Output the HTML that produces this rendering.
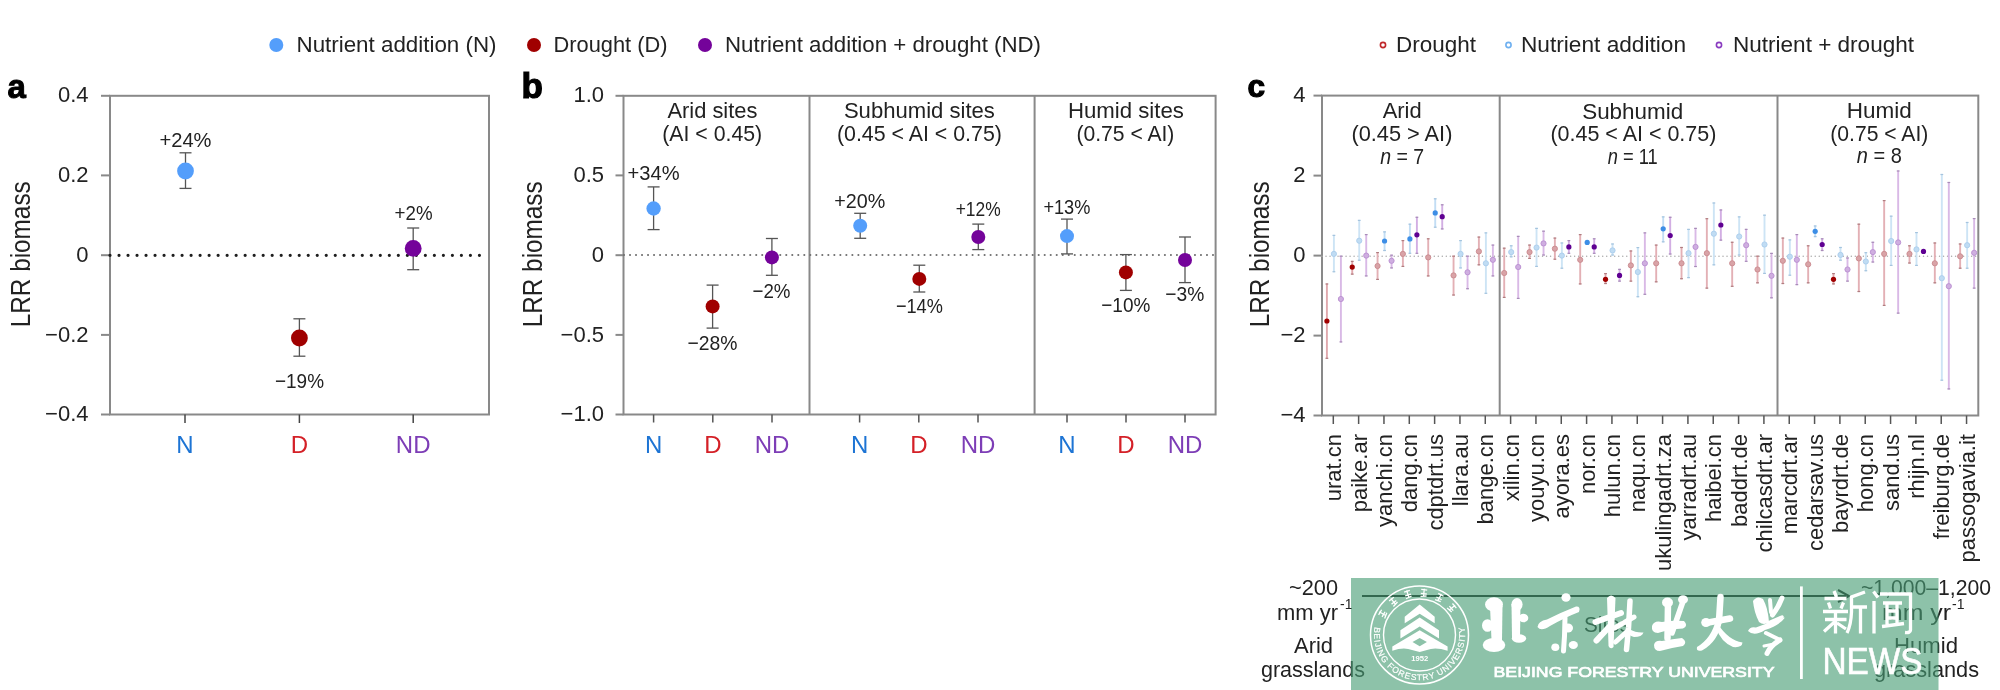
<!DOCTYPE html>
<html><head><meta charset="utf-8"><style>
html,body{margin:0;padding:0;background:#fff;}
svg{display:block;will-change:transform;}
text{font-family:"Liberation Sans", sans-serif;}
</style></head><body>
<svg width="2000" height="690" viewBox="0 0 2000 690">
<rect width="2000" height="690" fill="#fff"/>
<circle cx="276.3" cy="45" r="7" fill="#549efb"/>
<text x="296.5" y="51.5" font-size="22" fill="#222" text-anchor="start" font-weight="normal" textLength="200" lengthAdjust="spacingAndGlyphs" >Nutrient addition (N)</text>
<circle cx="534" cy="45" r="7" fill="#a00000"/>
<text x="553.5" y="51.5" font-size="22" fill="#222" text-anchor="start" font-weight="normal" textLength="114" lengthAdjust="spacingAndGlyphs" >Drought (D)</text>
<circle cx="705" cy="45" r="7" fill="#74039a"/>
<text x="725" y="51.5" font-size="22" fill="#222" text-anchor="start" font-weight="normal" textLength="316" lengthAdjust="spacingAndGlyphs" >Nutrient addition + drought (ND)</text>
<circle cx="1383" cy="45" r="2.6" fill="none" stroke="#c0282b" stroke-width="1.6"/>
<circle cx="1508.5" cy="45" r="2.6" fill="none" stroke="#6fb0f0" stroke-width="1.6"/>
<circle cx="1719" cy="45" r="2.6" fill="none" stroke="#8a3cc0" stroke-width="1.6"/>
<text x="1396" y="51.5" font-size="22" fill="#222" text-anchor="start" font-weight="normal" textLength="80" lengthAdjust="spacingAndGlyphs" >Drought</text>
<text x="1521" y="51.5" font-size="22" fill="#222" text-anchor="start" font-weight="normal" textLength="165" lengthAdjust="spacingAndGlyphs" >Nutrient addition</text>
<text x="1733" y="51.5" font-size="22" fill="#222" text-anchor="start" font-weight="normal" textLength="181" lengthAdjust="spacingAndGlyphs" >Nutrient + drought</text>
<text x="7.6" y="98" font-size="33" fill="#000" text-anchor="start" font-weight="bold" stroke="#000" stroke-width="1">a</text>
<text x="521.6" y="98" font-size="35" fill="#000" text-anchor="start" font-weight="bold" stroke="#000" stroke-width="1.2">b</text>
<text x="1247.6" y="97.2" font-size="31" fill="#000" text-anchor="start" font-weight="bold" stroke="#000" stroke-width="1.2" textLength="17.5" lengthAdjust="spacingAndGlyphs">c</text>
<text x="29.8" y="254.3" font-size="27" fill="#222" text-anchor="middle" transform="rotate(-90 29.8 254.3)" textLength="146" lengthAdjust="spacingAndGlyphs">LRR biomass</text>
<text x="542.3" y="254.3" font-size="27" fill="#222" text-anchor="middle" transform="rotate(-90 542.3 254.3)" textLength="146" lengthAdjust="spacingAndGlyphs">LRR biomass</text>
<text x="1268.6" y="254.3" font-size="27" fill="#222" text-anchor="middle" transform="rotate(-90 1268.6 254.3)" textLength="146" lengthAdjust="spacingAndGlyphs">LRR biomass</text>
<rect x="110" y="95.8" width="379" height="318.7" fill="none" stroke="#898989" stroke-width="2"/>
<line x1="101" y1="95.8" x2="110" y2="95.8" stroke="#898989" stroke-width="2" />
<text x="88.5" y="102.39999999999999" font-size="22" fill="#222" text-anchor="end" font-weight="normal" >0.4</text>
<line x1="101" y1="175.4" x2="110" y2="175.4" stroke="#898989" stroke-width="2" />
<text x="88.5" y="182.0" font-size="22" fill="#222" text-anchor="end" font-weight="normal" >0.2</text>
<line x1="101" y1="255.2" x2="110" y2="255.2" stroke="#898989" stroke-width="2" />
<text x="88.5" y="261.8" font-size="22" fill="#222" text-anchor="end" font-weight="normal" >0</text>
<line x1="101" y1="334.9" x2="110" y2="334.9" stroke="#898989" stroke-width="2" />
<text x="88.5" y="341.5" font-size="22" fill="#222" text-anchor="end" font-weight="normal" >−0.2</text>
<line x1="101" y1="414.5" x2="110" y2="414.5" stroke="#898989" stroke-width="2" />
<text x="88.5" y="421.1" font-size="22" fill="#222" text-anchor="end" font-weight="normal" >−0.4</text>
<line x1="110" y1="255.3" x2="482" y2="255.3" stroke="#1e1e1e" stroke-width="3.2" stroke-linecap="round" stroke-dasharray="0.01 9"/>
<line x1="185" y1="414.5" x2="185" y2="423" stroke="#444" stroke-width="1.5" />
<text x="185" y="452.5" font-size="24" fill="#1d74d4" text-anchor="middle" font-weight="normal" >N</text>
<line x1="299.4" y1="414.5" x2="299.4" y2="423" stroke="#444" stroke-width="1.5" />
<text x="299.4" y="452.5" font-size="24" fill="#d42027" text-anchor="middle" font-weight="normal" >D</text>
<line x1="413.2" y1="414.5" x2="413.2" y2="423" stroke="#444" stroke-width="1.5" />
<text x="413.2" y="452.5" font-size="24" fill="#7d3db6" text-anchor="middle" font-weight="normal" >ND</text>
<line x1="185.5" y1="152.8" x2="185.5" y2="188.4" stroke="#555" stroke-width="1.3" />
<line x1="179.5" y1="152.8" x2="191.5" y2="152.8" stroke="#555" stroke-width="1.3" />
<line x1="179.5" y1="188.4" x2="191.5" y2="188.4" stroke="#555" stroke-width="1.3" />
<circle cx="185.5" cy="171" r="8.4" fill="#549efb"/>
<line x1="299.4" y1="318.8" x2="299.4" y2="356.2" stroke="#555" stroke-width="1.3" />
<line x1="293.4" y1="318.8" x2="305.4" y2="318.8" stroke="#555" stroke-width="1.3" />
<line x1="293.4" y1="356.2" x2="305.4" y2="356.2" stroke="#555" stroke-width="1.3" />
<circle cx="299.4" cy="338" r="8.4" fill="#a00000"/>
<line x1="413.2" y1="228" x2="413.2" y2="269.7" stroke="#555" stroke-width="1.3" />
<line x1="407.2" y1="228" x2="419.2" y2="228" stroke="#555" stroke-width="1.3" />
<line x1="407.2" y1="269.7" x2="419.2" y2="269.7" stroke="#555" stroke-width="1.3" />
<circle cx="413.2" cy="248.4" r="8.4" fill="#74039a"/>
<text x="185.5" y="146.7" font-size="21" fill="#222" text-anchor="middle" font-weight="normal" textLength="52" lengthAdjust="spacingAndGlyphs" >+24%</text>
<text x="299.5" y="387.7" font-size="21" fill="#222" text-anchor="middle" font-weight="normal" textLength="49" lengthAdjust="spacingAndGlyphs" >−19%</text>
<text x="413.6" y="220.4" font-size="21" fill="#222" text-anchor="middle" font-weight="normal" textLength="38" lengthAdjust="spacingAndGlyphs" >+2%</text>
<rect x="623.5" y="95.8" width="592.0999999999999" height="318.7" fill="none" stroke="#898989" stroke-width="2"/>
<line x1="809.5" y1="95.8" x2="809.5" y2="414.5" stroke="#898989" stroke-width="2" />
<line x1="1034.6" y1="95.8" x2="1034.6" y2="414.5" stroke="#898989" stroke-width="2" />
<line x1="615.5" y1="95.8" x2="623.5" y2="95.8" stroke="#898989" stroke-width="2" />
<text x="604" y="102.39999999999999" font-size="22" fill="#222" text-anchor="end" font-weight="normal" >1.0</text>
<line x1="615.5" y1="175.4" x2="623.5" y2="175.4" stroke="#898989" stroke-width="2" />
<text x="604" y="182.0" font-size="22" fill="#222" text-anchor="end" font-weight="normal" >0.5</text>
<line x1="615.5" y1="255.2" x2="623.5" y2="255.2" stroke="#898989" stroke-width="2" />
<text x="604" y="261.8" font-size="22" fill="#222" text-anchor="end" font-weight="normal" >0</text>
<line x1="615.5" y1="334.9" x2="623.5" y2="334.9" stroke="#898989" stroke-width="2" />
<text x="604" y="341.5" font-size="22" fill="#222" text-anchor="end" font-weight="normal" >−0.5</text>
<line x1="615.5" y1="414.5" x2="623.5" y2="414.5" stroke="#898989" stroke-width="2" />
<text x="604" y="421.1" font-size="22" fill="#222" text-anchor="end" font-weight="normal" >−1.0</text>
<line x1="624.0" y1="255" x2="1213.6" y2="255" stroke="#6f6f6f" stroke-width="2.1" stroke-linecap="round" stroke-dasharray="0.01 6"/>
<line x1="653.6" y1="414.5" x2="653.6" y2="422.5" stroke="#555" stroke-width="1.5" />
<text x="653.6" y="453" font-size="24" fill="#1d74d4" text-anchor="middle" font-weight="normal" >N</text>
<line x1="712.8" y1="414.5" x2="712.8" y2="422.5" stroke="#555" stroke-width="1.5" />
<text x="712.8" y="453" font-size="24" fill="#d42027" text-anchor="middle" font-weight="normal" >D</text>
<line x1="772" y1="414.5" x2="772" y2="422.5" stroke="#555" stroke-width="1.5" />
<text x="772" y="453" font-size="24" fill="#7d3db6" text-anchor="middle" font-weight="normal" >ND</text>
<line x1="859.6" y1="414.5" x2="859.6" y2="422.5" stroke="#555" stroke-width="1.5" />
<text x="859.6" y="453" font-size="24" fill="#1d74d4" text-anchor="middle" font-weight="normal" >N</text>
<line x1="918.8" y1="414.5" x2="918.8" y2="422.5" stroke="#555" stroke-width="1.5" />
<text x="918.8" y="453" font-size="24" fill="#d42027" text-anchor="middle" font-weight="normal" >D</text>
<line x1="978" y1="414.5" x2="978" y2="422.5" stroke="#555" stroke-width="1.5" />
<text x="978" y="453" font-size="24" fill="#7d3db6" text-anchor="middle" font-weight="normal" >ND</text>
<line x1="1067" y1="414.5" x2="1067" y2="422.5" stroke="#555" stroke-width="1.5" />
<text x="1067" y="453" font-size="24" fill="#1d74d4" text-anchor="middle" font-weight="normal" >N</text>
<line x1="1126" y1="414.5" x2="1126" y2="422.5" stroke="#555" stroke-width="1.5" />
<text x="1126" y="453" font-size="24" fill="#d42027" text-anchor="middle" font-weight="normal" >D</text>
<line x1="1185" y1="414.5" x2="1185" y2="422.5" stroke="#555" stroke-width="1.5" />
<text x="1185" y="453" font-size="24" fill="#7d3db6" text-anchor="middle" font-weight="normal" >ND</text>
<text x="712.4" y="118.3" font-size="22" fill="#222" text-anchor="middle" font-weight="normal" textLength="90" lengthAdjust="spacingAndGlyphs" >Arid sites</text>
<text x="712.2" y="140.9" font-size="22" fill="#222" text-anchor="middle" font-weight="normal" textLength="100" lengthAdjust="spacingAndGlyphs" >(AI &lt; 0.45)</text>
<text x="919.4" y="118.3" font-size="22" fill="#222" text-anchor="middle" font-weight="normal" textLength="151" lengthAdjust="spacingAndGlyphs" >Subhumid sites</text>
<text x="919.4" y="140.9" font-size="22" fill="#222" text-anchor="middle" font-weight="normal" textLength="165" lengthAdjust="spacingAndGlyphs" >(0.45 &lt; AI &lt; 0.75)</text>
<text x="1125.9" y="118.3" font-size="22" fill="#222" text-anchor="middle" font-weight="normal" textLength="116" lengthAdjust="spacingAndGlyphs" >Humid sites</text>
<text x="1125.4" y="140.9" font-size="22" fill="#222" text-anchor="middle" font-weight="normal" textLength="98" lengthAdjust="spacingAndGlyphs" >(0.75 &lt; AI)</text>
<line x1="653.6" y1="186.9" x2="653.6" y2="229.6" stroke="#555" stroke-width="1.3" />
<line x1="647.6" y1="186.9" x2="659.6" y2="186.9" stroke="#555" stroke-width="1.3" />
<line x1="647.6" y1="229.6" x2="659.6" y2="229.6" stroke="#555" stroke-width="1.3" />
<circle cx="653.6" cy="208.5" r="7.2" fill="#549efb"/>
<line x1="712.6" y1="285.1" x2="712.6" y2="328.1" stroke="#555" stroke-width="1.3" />
<line x1="706.6" y1="285.1" x2="718.6" y2="285.1" stroke="#555" stroke-width="1.3" />
<line x1="706.6" y1="328.1" x2="718.6" y2="328.1" stroke="#555" stroke-width="1.3" />
<circle cx="712.6" cy="306.4" r="7.0" fill="#a00000"/>
<line x1="771.9" y1="238.5" x2="771.9" y2="275.3" stroke="#555" stroke-width="1.3" />
<line x1="765.9" y1="238.5" x2="777.9" y2="238.5" stroke="#555" stroke-width="1.3" />
<line x1="765.9" y1="275.3" x2="777.9" y2="275.3" stroke="#555" stroke-width="1.3" />
<circle cx="771.9" cy="257.4" r="7.0" fill="#74039a"/>
<line x1="860.2" y1="213.3" x2="860.2" y2="238.3" stroke="#555" stroke-width="1.3" />
<line x1="854.2" y1="213.3" x2="866.2" y2="213.3" stroke="#555" stroke-width="1.3" />
<line x1="854.2" y1="238.3" x2="866.2" y2="238.3" stroke="#555" stroke-width="1.3" />
<circle cx="860.2" cy="225.7" r="7.0" fill="#549efb"/>
<line x1="919.3" y1="265.2" x2="919.3" y2="292.0" stroke="#555" stroke-width="1.3" />
<line x1="913.3" y1="265.2" x2="925.3" y2="265.2" stroke="#555" stroke-width="1.3" />
<line x1="913.3" y1="292.0" x2="925.3" y2="292.0" stroke="#555" stroke-width="1.3" />
<circle cx="919.3" cy="278.9" r="7.0" fill="#a00000"/>
<line x1="978.3" y1="224.1" x2="978.3" y2="249.6" stroke="#555" stroke-width="1.3" />
<line x1="972.3" y1="224.1" x2="984.3" y2="224.1" stroke="#555" stroke-width="1.3" />
<line x1="972.3" y1="249.6" x2="984.3" y2="249.6" stroke="#555" stroke-width="1.3" />
<circle cx="978.3" cy="237.0" r="7.0" fill="#74039a"/>
<line x1="1067.0" y1="219.1" x2="1067.0" y2="253.9" stroke="#555" stroke-width="1.3" />
<line x1="1061.0" y1="219.1" x2="1073.0" y2="219.1" stroke="#555" stroke-width="1.3" />
<line x1="1061.0" y1="253.9" x2="1073.0" y2="253.9" stroke="#555" stroke-width="1.3" />
<circle cx="1067.0" cy="236.1" r="7.0" fill="#549efb"/>
<line x1="1125.9" y1="254.6" x2="1125.9" y2="290.4" stroke="#555" stroke-width="1.3" />
<line x1="1119.9" y1="254.6" x2="1131.9" y2="254.6" stroke="#555" stroke-width="1.3" />
<line x1="1119.9" y1="290.4" x2="1131.9" y2="290.4" stroke="#555" stroke-width="1.3" />
<circle cx="1125.9" cy="272.4" r="7.0" fill="#a00000"/>
<line x1="1185.0" y1="237.0" x2="1185.0" y2="282.6" stroke="#555" stroke-width="1.3" />
<line x1="1179.0" y1="237.0" x2="1191.0" y2="237.0" stroke="#555" stroke-width="1.3" />
<line x1="1179.0" y1="282.6" x2="1191.0" y2="282.6" stroke="#555" stroke-width="1.3" />
<circle cx="1185.0" cy="260.0" r="7.0" fill="#74039a"/>
<text x="653.6" y="180.3" font-size="21" fill="#222" text-anchor="middle" font-weight="normal" textLength="52" lengthAdjust="spacingAndGlyphs" >+34%</text>
<text x="712.4" y="349.8" font-size="21" fill="#222" text-anchor="middle" font-weight="normal" textLength="50" lengthAdjust="spacingAndGlyphs" >−28%</text>
<text x="771.5" y="297.9" font-size="21" fill="#222" text-anchor="middle" font-weight="normal" textLength="38" lengthAdjust="spacingAndGlyphs" >−2%</text>
<text x="859.7" y="208.3" font-size="21" fill="#222" text-anchor="middle" font-weight="normal" textLength="51" lengthAdjust="spacingAndGlyphs" >+20%</text>
<text x="919.4" y="313" font-size="21" fill="#222" text-anchor="middle" font-weight="normal" textLength="47" lengthAdjust="spacingAndGlyphs" >−14%</text>
<text x="978.2" y="215.9" font-size="21" fill="#222" text-anchor="middle" font-weight="normal" textLength="45" lengthAdjust="spacingAndGlyphs" >+12%</text>
<text x="1066.9" y="213.7" font-size="21" fill="#222" text-anchor="middle" font-weight="normal" textLength="47" lengthAdjust="spacingAndGlyphs" >+13%</text>
<text x="1125.8" y="311.5" font-size="21" fill="#222" text-anchor="middle" font-weight="normal" textLength="49" lengthAdjust="spacingAndGlyphs" >−10%</text>
<text x="1184.8" y="301.3" font-size="21" fill="#222" text-anchor="middle" font-weight="normal" textLength="39" lengthAdjust="spacingAndGlyphs" >−3%</text>
<rect x="1322" y="95.6" width="656.3" height="319.9" fill="none" stroke="#898989" stroke-width="2"/>
<line x1="1499.7" y1="95.6" x2="1499.7" y2="415.5" stroke="#898989" stroke-width="2" />
<line x1="1777.5" y1="95.6" x2="1777.5" y2="415.5" stroke="#898989" stroke-width="2" />
<line x1="1313.5" y1="95.6" x2="1322" y2="95.6" stroke="#898989" stroke-width="2" />
<text x="1305.5" y="102.19999999999999" font-size="22" fill="#222" text-anchor="end" font-weight="normal" >4</text>
<line x1="1313.5" y1="175.6" x2="1322" y2="175.6" stroke="#898989" stroke-width="2" />
<text x="1305.5" y="182.2" font-size="22" fill="#222" text-anchor="end" font-weight="normal" >2</text>
<line x1="1313.5" y1="255.6" x2="1322" y2="255.6" stroke="#898989" stroke-width="2" />
<text x="1305.5" y="262.2" font-size="22" fill="#222" text-anchor="end" font-weight="normal" >0</text>
<line x1="1313.5" y1="335.6" x2="1322" y2="335.6" stroke="#898989" stroke-width="2" />
<text x="1305.5" y="342.20000000000005" font-size="22" fill="#222" text-anchor="end" font-weight="normal" >−2</text>
<line x1="1313.5" y1="415.5" x2="1322" y2="415.5" stroke="#898989" stroke-width="2" />
<text x="1305.5" y="422.1" font-size="22" fill="#222" text-anchor="end" font-weight="normal" >−4</text>
<line x1="1322" y1="256.2" x2="1978.3" y2="256.2" stroke="#aaaaaa" stroke-width="1.5" stroke-linecap="round" stroke-dasharray="0.01 4"/>
<line x1="1333.3" y1="415.5" x2="1333.3" y2="424" stroke="#555" stroke-width="1.5" />
<text x="1341.3" y="434" font-size="22" fill="#222" text-anchor="end" transform="rotate(-90 1341.3 434)">urat.cn</text>
<line x1="1358.6299999999999" y1="415.5" x2="1358.6299999999999" y2="424" stroke="#555" stroke-width="1.5" />
<text x="1366.6299999999999" y="434" font-size="22" fill="#222" text-anchor="end" transform="rotate(-90 1366.6299999999999 434)">paike.ar</text>
<line x1="1383.96" y1="415.5" x2="1383.96" y2="424" stroke="#555" stroke-width="1.5" />
<text x="1391.96" y="434" font-size="22" fill="#222" text-anchor="end" transform="rotate(-90 1391.96 434)">yanchi.cn</text>
<line x1="1409.29" y1="415.5" x2="1409.29" y2="424" stroke="#555" stroke-width="1.5" />
<text x="1417.29" y="434" font-size="22" fill="#222" text-anchor="end" transform="rotate(-90 1417.29 434)">dang.cn</text>
<line x1="1434.62" y1="415.5" x2="1434.62" y2="424" stroke="#555" stroke-width="1.5" />
<text x="1442.62" y="434" font-size="22" fill="#222" text-anchor="end" transform="rotate(-90 1442.62 434)">cdptdrt.us</text>
<line x1="1459.95" y1="415.5" x2="1459.95" y2="424" stroke="#555" stroke-width="1.5" />
<text x="1467.95" y="434" font-size="22" fill="#222" text-anchor="end" transform="rotate(-90 1467.95 434)">llara.au</text>
<line x1="1485.28" y1="415.5" x2="1485.28" y2="424" stroke="#555" stroke-width="1.5" />
<text x="1493.28" y="434" font-size="22" fill="#222" text-anchor="end" transform="rotate(-90 1493.28 434)">bange.cn</text>
<line x1="1510.61" y1="415.5" x2="1510.61" y2="424" stroke="#555" stroke-width="1.5" />
<text x="1518.61" y="434" font-size="22" fill="#222" text-anchor="end" transform="rotate(-90 1518.61 434)">xilin.cn</text>
<line x1="1535.94" y1="415.5" x2="1535.94" y2="424" stroke="#555" stroke-width="1.5" />
<text x="1543.94" y="434" font-size="22" fill="#222" text-anchor="end" transform="rotate(-90 1543.94 434)">youyu.cn</text>
<line x1="1561.27" y1="415.5" x2="1561.27" y2="424" stroke="#555" stroke-width="1.5" />
<text x="1569.27" y="434" font-size="22" fill="#222" text-anchor="end" transform="rotate(-90 1569.27 434)">ayora.es</text>
<line x1="1586.6" y1="415.5" x2="1586.6" y2="424" stroke="#555" stroke-width="1.5" />
<text x="1594.6" y="434" font-size="22" fill="#222" text-anchor="end" transform="rotate(-90 1594.6 434)">nor.cn</text>
<line x1="1611.9299999999998" y1="415.5" x2="1611.9299999999998" y2="424" stroke="#555" stroke-width="1.5" />
<text x="1619.9299999999998" y="434" font-size="22" fill="#222" text-anchor="end" transform="rotate(-90 1619.9299999999998 434)">hulun.cn</text>
<line x1="1637.26" y1="415.5" x2="1637.26" y2="424" stroke="#555" stroke-width="1.5" />
<text x="1645.26" y="434" font-size="22" fill="#222" text-anchor="end" transform="rotate(-90 1645.26 434)">naqu.cn</text>
<line x1="1662.59" y1="415.5" x2="1662.59" y2="424" stroke="#555" stroke-width="1.5" />
<text x="1670.59" y="434" font-size="22" fill="#222" text-anchor="end" transform="rotate(-90 1670.59 434)">ukulingadrt.za</text>
<line x1="1687.92" y1="415.5" x2="1687.92" y2="424" stroke="#555" stroke-width="1.5" />
<text x="1695.92" y="434" font-size="22" fill="#222" text-anchor="end" transform="rotate(-90 1695.92 434)">yarradrt.au</text>
<line x1="1713.25" y1="415.5" x2="1713.25" y2="424" stroke="#555" stroke-width="1.5" />
<text x="1721.25" y="434" font-size="22" fill="#222" text-anchor="end" transform="rotate(-90 1721.25 434)">haibei.cn</text>
<line x1="1738.58" y1="415.5" x2="1738.58" y2="424" stroke="#555" stroke-width="1.5" />
<text x="1746.58" y="434" font-size="22" fill="#222" text-anchor="end" transform="rotate(-90 1746.58 434)">baddrt.de</text>
<line x1="1763.9099999999999" y1="415.5" x2="1763.9099999999999" y2="424" stroke="#555" stroke-width="1.5" />
<text x="1771.9099999999999" y="434" font-size="22" fill="#222" text-anchor="end" transform="rotate(-90 1771.9099999999999 434)">chilcasdrt.ar</text>
<line x1="1789.2399999999998" y1="415.5" x2="1789.2399999999998" y2="424" stroke="#555" stroke-width="1.5" />
<text x="1797.2399999999998" y="434" font-size="22" fill="#222" text-anchor="end" transform="rotate(-90 1797.2399999999998 434)">marcdrt.ar</text>
<line x1="1814.57" y1="415.5" x2="1814.57" y2="424" stroke="#555" stroke-width="1.5" />
<text x="1822.57" y="434" font-size="22" fill="#222" text-anchor="end" transform="rotate(-90 1822.57 434)">cedarsav.us</text>
<line x1="1839.8999999999999" y1="415.5" x2="1839.8999999999999" y2="424" stroke="#555" stroke-width="1.5" />
<text x="1847.8999999999999" y="434" font-size="22" fill="#222" text-anchor="end" transform="rotate(-90 1847.8999999999999 434)">bayrdrt.de</text>
<line x1="1865.23" y1="415.5" x2="1865.23" y2="424" stroke="#555" stroke-width="1.5" />
<text x="1873.23" y="434" font-size="22" fill="#222" text-anchor="end" transform="rotate(-90 1873.23 434)">hong.cn</text>
<line x1="1890.56" y1="415.5" x2="1890.56" y2="424" stroke="#555" stroke-width="1.5" />
<text x="1898.56" y="434" font-size="22" fill="#222" text-anchor="end" transform="rotate(-90 1898.56 434)">sand.us</text>
<line x1="1915.8899999999999" y1="415.5" x2="1915.8899999999999" y2="424" stroke="#555" stroke-width="1.5" />
<text x="1923.8899999999999" y="434" font-size="22" fill="#222" text-anchor="end" transform="rotate(-90 1923.8899999999999 434)">rhijn.nl</text>
<line x1="1941.2199999999998" y1="415.5" x2="1941.2199999999998" y2="424" stroke="#555" stroke-width="1.5" />
<text x="1949.2199999999998" y="434" font-size="22" fill="#222" text-anchor="end" transform="rotate(-90 1949.2199999999998 434)">freiburg.de</text>
<line x1="1966.55" y1="415.5" x2="1966.55" y2="424" stroke="#555" stroke-width="1.5" />
<text x="1974.55" y="434" font-size="22" fill="#222" text-anchor="end" transform="rotate(-90 1974.55 434)">passogavia.it</text>
<text x="1402.2" y="118.2" font-size="22" fill="#222" text-anchor="middle" font-weight="normal" textLength="39" lengthAdjust="spacingAndGlyphs" >Arid</text>
<text x="1401.9" y="141.4" font-size="22" fill="#222" text-anchor="middle" font-weight="normal" textLength="101" lengthAdjust="spacingAndGlyphs" >(0.45 &gt; AI)</text>
<text x="1402.2" y="163.6" font-size="22" fill="#222" text-anchor="middle" textLength="44" lengthAdjust="spacingAndGlyphs"><tspan font-style="italic">n</tspan> = 7</text>
<text x="1632.7" y="118.5" font-size="22" fill="#222" text-anchor="middle" font-weight="normal" textLength="101" lengthAdjust="spacingAndGlyphs" >Subhumid</text>
<text x="1633.4" y="141.1" font-size="22" fill="#222" text-anchor="middle" font-weight="normal" textLength="166" lengthAdjust="spacingAndGlyphs" >(0.45 &lt; AI &lt; 0.75)</text>
<text x="1632.7" y="163.5" font-size="22" fill="#222" text-anchor="middle" textLength="50" lengthAdjust="spacingAndGlyphs"><tspan font-style="italic">n</tspan> = 11</text>
<text x="1879.2" y="118.1" font-size="22" fill="#222" text-anchor="middle" font-weight="normal" textLength="65" lengthAdjust="spacingAndGlyphs" >Humid</text>
<text x="1879.3" y="140.5" font-size="22" fill="#222" text-anchor="middle" font-weight="normal" textLength="98" lengthAdjust="spacingAndGlyphs" >(0.75 &lt; AI)</text>
<text x="1879.3" y="163.3" font-size="22" fill="#222" text-anchor="middle" textLength="45" lengthAdjust="spacingAndGlyphs"><tspan font-style="italic">n</tspan> = 8</text>
<line x1="1326.8999999999999" y1="283.4" x2="1326.8999999999999" y2="358.9" stroke="#e0a8ad" stroke-width="1.9" />
<line x1="1325.4999999999998" y1="284.0" x2="1328.3" y2="284.0" stroke="#b07d80" stroke-width="1.2" />
<line x1="1325.4999999999998" y1="358.29999999999995" x2="1328.3" y2="358.29999999999995" stroke="#b07d80" stroke-width="1.2" />
<circle cx="1326.8999999999999" cy="321" r="2.6" fill="#a00000"/>
<line x1="1333.8999999999999" y1="234.8" x2="1333.8999999999999" y2="272.3" stroke="#cde4f5" stroke-width="1.9" />
<line x1="1332.4999999999998" y1="235.4" x2="1335.3" y2="235.4" stroke="#a5c4de" stroke-width="1.2" />
<line x1="1332.4999999999998" y1="271.7" x2="1335.3" y2="271.7" stroke="#a5c4de" stroke-width="1.2" />
<circle cx="1333.8999999999999" cy="253.9" r="2.6" fill="#c0dcf3" stroke="#aacdec" stroke-width="0.9"/>
<line x1="1340.8999999999999" y1="255.6" x2="1340.8999999999999" y2="342.5" stroke="#d9b9e6" stroke-width="1.9" />
<line x1="1339.4999999999998" y1="256.2" x2="1342.3" y2="256.2" stroke="#a88cb8" stroke-width="1.2" />
<line x1="1339.4999999999998" y1="341.9" x2="1342.3" y2="341.9" stroke="#a88cb8" stroke-width="1.2" />
<circle cx="1340.8999999999999" cy="299" r="2.6" fill="#cfaee0" stroke="#b98fd0" stroke-width="0.9"/>
<line x1="1352.2299999999998" y1="260.8" x2="1352.2299999999998" y2="274.7" stroke="#e0a8ad" stroke-width="1.9" />
<line x1="1350.8299999999997" y1="261.40000000000003" x2="1353.6299999999999" y2="261.40000000000003" stroke="#b07d80" stroke-width="1.2" />
<line x1="1350.8299999999997" y1="274.09999999999997" x2="1353.6299999999999" y2="274.09999999999997" stroke="#b07d80" stroke-width="1.2" />
<circle cx="1352.2299999999998" cy="267.1" r="2.6" fill="#a00000"/>
<line x1="1359.2299999999998" y1="219.8" x2="1359.2299999999998" y2="260.8" stroke="#cde4f5" stroke-width="1.9" />
<line x1="1357.8299999999997" y1="220.4" x2="1360.6299999999999" y2="220.4" stroke="#a5c4de" stroke-width="1.2" />
<line x1="1357.8299999999997" y1="260.2" x2="1360.6299999999999" y2="260.2" stroke="#a5c4de" stroke-width="1.2" />
<circle cx="1359.2299999999998" cy="240.7" r="2.6" fill="#c0dcf3" stroke="#aacdec" stroke-width="0.9"/>
<line x1="1366.2299999999998" y1="234" x2="1366.2299999999998" y2="276.5" stroke="#d9b9e6" stroke-width="1.9" />
<line x1="1364.8299999999997" y1="234.6" x2="1367.6299999999999" y2="234.6" stroke="#a88cb8" stroke-width="1.2" />
<line x1="1364.8299999999997" y1="275.9" x2="1367.6299999999999" y2="275.9" stroke="#a88cb8" stroke-width="1.2" />
<circle cx="1366.2299999999998" cy="255.6" r="2.6" fill="#cfaee0" stroke="#b98fd0" stroke-width="0.9"/>
<line x1="1377.56" y1="252" x2="1377.56" y2="280" stroke="#e3b0b5" stroke-width="1.9" />
<line x1="1376.1599999999999" y1="252.6" x2="1378.96" y2="252.6" stroke="#b07d80" stroke-width="1.2" />
<line x1="1376.1599999999999" y1="279.4" x2="1378.96" y2="279.4" stroke="#b07d80" stroke-width="1.2" />
<circle cx="1377.56" cy="266" r="2.6" fill="#d9a3a7" stroke="#c98a8f" stroke-width="0.9"/>
<line x1="1384.56" y1="231.3" x2="1384.56" y2="251.1" stroke="#c2ddf4" stroke-width="1.9" />
<line x1="1383.1599999999999" y1="231.9" x2="1385.96" y2="231.9" stroke="#a5c4de" stroke-width="1.2" />
<line x1="1383.1599999999999" y1="250.5" x2="1385.96" y2="250.5" stroke="#a5c4de" stroke-width="1.2" />
<circle cx="1384.56" cy="241" r="2.6" fill="#3d8ee6"/>
<line x1="1391.56" y1="254.6" x2="1391.56" y2="268.5" stroke="#d9b9e6" stroke-width="1.9" />
<line x1="1390.1599999999999" y1="255.2" x2="1392.96" y2="255.2" stroke="#a88cb8" stroke-width="1.2" />
<line x1="1390.1599999999999" y1="267.9" x2="1392.96" y2="267.9" stroke="#a88cb8" stroke-width="1.2" />
<circle cx="1391.56" cy="260.8" r="2.6" fill="#cfaee0" stroke="#b98fd0" stroke-width="0.9"/>
<line x1="1402.8899999999999" y1="240" x2="1402.8899999999999" y2="267" stroke="#e3b0b5" stroke-width="1.9" />
<line x1="1401.4899999999998" y1="240.6" x2="1404.29" y2="240.6" stroke="#b07d80" stroke-width="1.2" />
<line x1="1401.4899999999998" y1="266.4" x2="1404.29" y2="266.4" stroke="#b07d80" stroke-width="1.2" />
<circle cx="1402.8899999999999" cy="253.9" r="2.6" fill="#d9a3a7" stroke="#c98a8f" stroke-width="0.9"/>
<line x1="1409.8899999999999" y1="223.6" x2="1409.8899999999999" y2="253.9" stroke="#c2ddf4" stroke-width="1.9" />
<line x1="1408.4899999999998" y1="224.2" x2="1411.29" y2="224.2" stroke="#a5c4de" stroke-width="1.2" />
<line x1="1408.4899999999998" y1="253.3" x2="1411.29" y2="253.3" stroke="#a5c4de" stroke-width="1.2" />
<circle cx="1409.8899999999999" cy="238.9" r="2.6" fill="#3d8ee6"/>
<line x1="1416.8899999999999" y1="216.7" x2="1416.8899999999999" y2="253.9" stroke="#d2aee3" stroke-width="1.9" />
<line x1="1415.4899999999998" y1="217.29999999999998" x2="1418.29" y2="217.29999999999998" stroke="#a88cb8" stroke-width="1.2" />
<line x1="1415.4899999999998" y1="253.3" x2="1418.29" y2="253.3" stroke="#a88cb8" stroke-width="1.2" />
<circle cx="1416.8899999999999" cy="234.8" r="2.6" fill="#5f0092"/>
<line x1="1428.2199999999998" y1="238.2" x2="1428.2199999999998" y2="276.5" stroke="#e3b0b5" stroke-width="1.9" />
<line x1="1426.8199999999997" y1="238.79999999999998" x2="1429.62" y2="238.79999999999998" stroke="#b07d80" stroke-width="1.2" />
<line x1="1426.8199999999997" y1="275.9" x2="1429.62" y2="275.9" stroke="#b07d80" stroke-width="1.2" />
<circle cx="1428.2199999999998" cy="257.4" r="2.6" fill="#d9a3a7" stroke="#c98a8f" stroke-width="0.9"/>
<line x1="1435.2199999999998" y1="198.2" x2="1435.2199999999998" y2="227.8" stroke="#c2ddf4" stroke-width="1.9" />
<line x1="1433.8199999999997" y1="198.79999999999998" x2="1436.62" y2="198.79999999999998" stroke="#a5c4de" stroke-width="1.2" />
<line x1="1433.8199999999997" y1="227.20000000000002" x2="1436.62" y2="227.20000000000002" stroke="#a5c4de" stroke-width="1.2" />
<circle cx="1435.2199999999998" cy="212.9" r="2.6" fill="#3d8ee6"/>
<line x1="1442.2199999999998" y1="204.2" x2="1442.2199999999998" y2="229.5" stroke="#d2aee3" stroke-width="1.9" />
<line x1="1440.8199999999997" y1="204.79999999999998" x2="1443.62" y2="204.79999999999998" stroke="#a88cb8" stroke-width="1.2" />
<line x1="1440.8199999999997" y1="228.9" x2="1443.62" y2="228.9" stroke="#a88cb8" stroke-width="1.2" />
<circle cx="1442.2199999999998" cy="216.7" r="2.6" fill="#5f0092"/>
<line x1="1453.55" y1="255.6" x2="1453.55" y2="295.6" stroke="#e3b0b5" stroke-width="1.9" />
<line x1="1452.1499999999999" y1="256.2" x2="1454.95" y2="256.2" stroke="#b07d80" stroke-width="1.2" />
<line x1="1452.1499999999999" y1="295.0" x2="1454.95" y2="295.0" stroke="#b07d80" stroke-width="1.2" />
<circle cx="1453.55" cy="275.4" r="2.6" fill="#d9a3a7" stroke="#c98a8f" stroke-width="0.9"/>
<line x1="1460.55" y1="240" x2="1460.55" y2="268.5" stroke="#cde4f5" stroke-width="1.9" />
<line x1="1459.1499999999999" y1="240.6" x2="1461.95" y2="240.6" stroke="#a5c4de" stroke-width="1.2" />
<line x1="1459.1499999999999" y1="267.9" x2="1461.95" y2="267.9" stroke="#a5c4de" stroke-width="1.2" />
<circle cx="1460.55" cy="253.9" r="2.6" fill="#c0dcf3" stroke="#aacdec" stroke-width="0.9"/>
<line x1="1467.55" y1="255.6" x2="1467.55" y2="289.3" stroke="#d9b9e6" stroke-width="1.9" />
<line x1="1466.1499999999999" y1="256.2" x2="1468.95" y2="256.2" stroke="#a88cb8" stroke-width="1.2" />
<line x1="1466.1499999999999" y1="288.7" x2="1468.95" y2="288.7" stroke="#a88cb8" stroke-width="1.2" />
<circle cx="1467.55" cy="272.3" r="2.6" fill="#cfaee0" stroke="#b98fd0" stroke-width="0.9"/>
<line x1="1478.8799999999999" y1="236.5" x2="1478.8799999999999" y2="265.4" stroke="#e3b0b5" stroke-width="1.9" />
<line x1="1477.4799999999998" y1="237.1" x2="1480.28" y2="237.1" stroke="#b07d80" stroke-width="1.2" />
<line x1="1477.4799999999998" y1="264.79999999999995" x2="1480.28" y2="264.79999999999995" stroke="#b07d80" stroke-width="1.2" />
<circle cx="1478.8799999999999" cy="251.4" r="2.6" fill="#d9a3a7" stroke="#c98a8f" stroke-width="0.9"/>
<line x1="1485.8799999999999" y1="232.3" x2="1485.8799999999999" y2="293.9" stroke="#cde4f5" stroke-width="1.9" />
<line x1="1484.4799999999998" y1="232.9" x2="1487.28" y2="232.9" stroke="#a5c4de" stroke-width="1.2" />
<line x1="1484.4799999999998" y1="293.29999999999995" x2="1487.28" y2="293.29999999999995" stroke="#a5c4de" stroke-width="1.2" />
<circle cx="1485.8799999999999" cy="263.3" r="2.6" fill="#c0dcf3" stroke="#aacdec" stroke-width="0.9"/>
<line x1="1492.8799999999999" y1="244.5" x2="1492.8799999999999" y2="276.5" stroke="#d9b9e6" stroke-width="1.9" />
<line x1="1491.4799999999998" y1="245.1" x2="1494.28" y2="245.1" stroke="#a88cb8" stroke-width="1.2" />
<line x1="1491.4799999999998" y1="275.9" x2="1494.28" y2="275.9" stroke="#a88cb8" stroke-width="1.2" />
<circle cx="1492.8799999999999" cy="259.8" r="2.6" fill="#cfaee0" stroke="#b98fd0" stroke-width="0.9"/>
<line x1="1504.2099999999998" y1="247.6" x2="1504.2099999999998" y2="298" stroke="#e3b0b5" stroke-width="1.9" />
<line x1="1502.8099999999997" y1="248.2" x2="1505.61" y2="248.2" stroke="#b07d80" stroke-width="1.2" />
<line x1="1502.8099999999997" y1="297.4" x2="1505.61" y2="297.4" stroke="#b07d80" stroke-width="1.2" />
<circle cx="1504.2099999999998" cy="273" r="2.6" fill="#d9a3a7" stroke="#c98a8f" stroke-width="0.9"/>
<line x1="1511.2099999999998" y1="245.2" x2="1511.2099999999998" y2="257.4" stroke="#cde4f5" stroke-width="1.9" />
<line x1="1509.8099999999997" y1="245.79999999999998" x2="1512.61" y2="245.79999999999998" stroke="#a5c4de" stroke-width="1.2" />
<line x1="1509.8099999999997" y1="256.79999999999995" x2="1512.61" y2="256.79999999999995" stroke="#a5c4de" stroke-width="1.2" />
<circle cx="1511.2099999999998" cy="252.1" r="2.6" fill="#c0dcf3" stroke="#aacdec" stroke-width="0.9"/>
<line x1="1518.2099999999998" y1="235.8" x2="1518.2099999999998" y2="299" stroke="#d9b9e6" stroke-width="1.9" />
<line x1="1516.8099999999997" y1="236.4" x2="1519.61" y2="236.4" stroke="#a88cb8" stroke-width="1.2" />
<line x1="1516.8099999999997" y1="298.4" x2="1519.61" y2="298.4" stroke="#a88cb8" stroke-width="1.2" />
<circle cx="1518.2099999999998" cy="267" r="2.6" fill="#cfaee0" stroke="#b98fd0" stroke-width="0.9"/>
<line x1="1529.54" y1="244.5" x2="1529.54" y2="259" stroke="#e3b0b5" stroke-width="1.9" />
<line x1="1528.1399999999999" y1="245.1" x2="1530.94" y2="245.1" stroke="#b07d80" stroke-width="1.2" />
<line x1="1528.1399999999999" y1="258.4" x2="1530.94" y2="258.4" stroke="#b07d80" stroke-width="1.2" />
<circle cx="1529.54" cy="252.1" r="2.6" fill="#d9a3a7" stroke="#c98a8f" stroke-width="0.9"/>
<line x1="1536.54" y1="227.8" x2="1536.54" y2="267" stroke="#cde4f5" stroke-width="1.9" />
<line x1="1535.1399999999999" y1="228.4" x2="1537.94" y2="228.4" stroke="#a5c4de" stroke-width="1.2" />
<line x1="1535.1399999999999" y1="266.4" x2="1537.94" y2="266.4" stroke="#a5c4de" stroke-width="1.2" />
<circle cx="1536.54" cy="247.6" r="2.6" fill="#c0dcf3" stroke="#aacdec" stroke-width="0.9"/>
<line x1="1543.54" y1="230.6" x2="1543.54" y2="255.6" stroke="#d9b9e6" stroke-width="1.9" />
<line x1="1542.1399999999999" y1="231.2" x2="1544.94" y2="231.2" stroke="#a88cb8" stroke-width="1.2" />
<line x1="1542.1399999999999" y1="255.0" x2="1544.94" y2="255.0" stroke="#a88cb8" stroke-width="1.2" />
<circle cx="1543.54" cy="243.4" r="2.6" fill="#cfaee0" stroke="#b98fd0" stroke-width="0.9"/>
<line x1="1554.87" y1="237.5" x2="1554.87" y2="259.8" stroke="#e3b0b5" stroke-width="1.9" />
<line x1="1553.4699999999998" y1="238.1" x2="1556.27" y2="238.1" stroke="#b07d80" stroke-width="1.2" />
<line x1="1553.4699999999998" y1="259.2" x2="1556.27" y2="259.2" stroke="#b07d80" stroke-width="1.2" />
<circle cx="1554.87" cy="248.7" r="2.6" fill="#d9a3a7" stroke="#c98a8f" stroke-width="0.9"/>
<line x1="1561.87" y1="242.4" x2="1561.87" y2="268.8" stroke="#cde4f5" stroke-width="1.9" />
<line x1="1560.4699999999998" y1="243.0" x2="1563.27" y2="243.0" stroke="#a5c4de" stroke-width="1.2" />
<line x1="1560.4699999999998" y1="268.2" x2="1563.27" y2="268.2" stroke="#a5c4de" stroke-width="1.2" />
<circle cx="1561.87" cy="255.6" r="2.6" fill="#c0dcf3" stroke="#aacdec" stroke-width="0.9"/>
<line x1="1568.87" y1="240" x2="1568.87" y2="253.9" stroke="#d2aee3" stroke-width="1.9" />
<line x1="1567.4699999999998" y1="240.6" x2="1570.27" y2="240.6" stroke="#a88cb8" stroke-width="1.2" />
<line x1="1567.4699999999998" y1="253.3" x2="1570.27" y2="253.3" stroke="#a88cb8" stroke-width="1.2" />
<circle cx="1568.87" cy="246.9" r="2.6" fill="#5f0092"/>
<line x1="1580.1999999999998" y1="234" x2="1580.1999999999998" y2="284.5" stroke="#e3b0b5" stroke-width="1.9" />
<line x1="1578.7999999999997" y1="234.6" x2="1581.6" y2="234.6" stroke="#b07d80" stroke-width="1.2" />
<line x1="1578.7999999999997" y1="283.9" x2="1581.6" y2="283.9" stroke="#b07d80" stroke-width="1.2" />
<circle cx="1580.1999999999998" cy="259.8" r="2.6" fill="#d9a3a7" stroke="#c98a8f" stroke-width="0.9"/>
<line x1="1587.1999999999998" y1="240" x2="1587.1999999999998" y2="245" stroke="#c2ddf4" stroke-width="1.9" />
<line x1="1585.7999999999997" y1="240.6" x2="1588.6" y2="240.6" stroke="#a5c4de" stroke-width="1.2" />
<line x1="1585.7999999999997" y1="244.4" x2="1588.6" y2="244.4" stroke="#a5c4de" stroke-width="1.2" />
<circle cx="1587.1999999999998" cy="242.4" r="2.6" fill="#3d8ee6"/>
<line x1="1594.1999999999998" y1="238.2" x2="1594.1999999999998" y2="253.9" stroke="#d2aee3" stroke-width="1.9" />
<line x1="1592.7999999999997" y1="238.79999999999998" x2="1595.6" y2="238.79999999999998" stroke="#a88cb8" stroke-width="1.2" />
<line x1="1592.7999999999997" y1="253.3" x2="1595.6" y2="253.3" stroke="#a88cb8" stroke-width="1.2" />
<circle cx="1594.1999999999998" cy="246.9" r="2.6" fill="#5f0092"/>
<line x1="1605.5299999999997" y1="273" x2="1605.5299999999997" y2="284.1" stroke="#e0a8ad" stroke-width="1.9" />
<line x1="1604.1299999999997" y1="273.6" x2="1606.9299999999998" y2="273.6" stroke="#b07d80" stroke-width="1.2" />
<line x1="1604.1299999999997" y1="283.5" x2="1606.9299999999998" y2="283.5" stroke="#b07d80" stroke-width="1.2" />
<circle cx="1605.5299999999997" cy="279.3" r="2.6" fill="#a00000"/>
<line x1="1612.5299999999997" y1="243.4" x2="1612.5299999999997" y2="255.6" stroke="#cde4f5" stroke-width="1.9" />
<line x1="1611.1299999999997" y1="244.0" x2="1613.9299999999998" y2="244.0" stroke="#a5c4de" stroke-width="1.2" />
<line x1="1611.1299999999997" y1="255.0" x2="1613.9299999999998" y2="255.0" stroke="#a5c4de" stroke-width="1.2" />
<circle cx="1612.5299999999997" cy="250.4" r="2.6" fill="#c0dcf3" stroke="#aacdec" stroke-width="0.9"/>
<line x1="1619.5299999999997" y1="268.8" x2="1619.5299999999997" y2="281.7" stroke="#d2aee3" stroke-width="1.9" />
<line x1="1618.1299999999997" y1="269.40000000000003" x2="1620.9299999999998" y2="269.40000000000003" stroke="#a88cb8" stroke-width="1.2" />
<line x1="1618.1299999999997" y1="281.09999999999997" x2="1620.9299999999998" y2="281.09999999999997" stroke="#a88cb8" stroke-width="1.2" />
<circle cx="1619.5299999999997" cy="275.4" r="2.6" fill="#5f0092"/>
<line x1="1630.86" y1="250.4" x2="1630.86" y2="281.7" stroke="#e3b0b5" stroke-width="1.9" />
<line x1="1629.4599999999998" y1="251.0" x2="1632.26" y2="251.0" stroke="#b07d80" stroke-width="1.2" />
<line x1="1629.4599999999998" y1="281.09999999999997" x2="1632.26" y2="281.09999999999997" stroke="#b07d80" stroke-width="1.2" />
<circle cx="1630.86" cy="265.4" r="2.6" fill="#d9a3a7" stroke="#c98a8f" stroke-width="0.9"/>
<line x1="1637.86" y1="247" x2="1637.86" y2="297.3" stroke="#cde4f5" stroke-width="1.9" />
<line x1="1636.4599999999998" y1="247.6" x2="1639.26" y2="247.6" stroke="#a5c4de" stroke-width="1.2" />
<line x1="1636.4599999999998" y1="296.7" x2="1639.26" y2="296.7" stroke="#a5c4de" stroke-width="1.2" />
<circle cx="1637.86" cy="272" r="2.6" fill="#c0dcf3" stroke="#aacdec" stroke-width="0.9"/>
<line x1="1644.86" y1="232.3" x2="1644.86" y2="294.9" stroke="#d9b9e6" stroke-width="1.9" />
<line x1="1643.4599999999998" y1="232.9" x2="1646.26" y2="232.9" stroke="#a88cb8" stroke-width="1.2" />
<line x1="1643.4599999999998" y1="294.29999999999995" x2="1646.26" y2="294.29999999999995" stroke="#a88cb8" stroke-width="1.2" />
<circle cx="1644.86" cy="263.3" r="2.6" fill="#cfaee0" stroke="#b98fd0" stroke-width="0.9"/>
<line x1="1656.1899999999998" y1="244.5" x2="1656.1899999999998" y2="282.4" stroke="#e3b0b5" stroke-width="1.9" />
<line x1="1654.7899999999997" y1="245.1" x2="1657.59" y2="245.1" stroke="#b07d80" stroke-width="1.2" />
<line x1="1654.7899999999997" y1="281.79999999999995" x2="1657.59" y2="281.79999999999995" stroke="#b07d80" stroke-width="1.2" />
<circle cx="1656.1899999999998" cy="263.3" r="2.6" fill="#d9a3a7" stroke="#c98a8f" stroke-width="0.9"/>
<line x1="1663.1899999999998" y1="216.3" x2="1663.1899999999998" y2="242.4" stroke="#c2ddf4" stroke-width="1.9" />
<line x1="1661.7899999999997" y1="216.9" x2="1664.59" y2="216.9" stroke="#a5c4de" stroke-width="1.2" />
<line x1="1661.7899999999997" y1="241.8" x2="1664.59" y2="241.8" stroke="#a5c4de" stroke-width="1.2" />
<circle cx="1663.1899999999998" cy="228.8" r="2.6" fill="#3d8ee6"/>
<line x1="1670.1899999999998" y1="216.7" x2="1670.1899999999998" y2="254.6" stroke="#d2aee3" stroke-width="1.9" />
<line x1="1668.7899999999997" y1="217.29999999999998" x2="1671.59" y2="217.29999999999998" stroke="#a88cb8" stroke-width="1.2" />
<line x1="1668.7899999999997" y1="254.0" x2="1671.59" y2="254.0" stroke="#a88cb8" stroke-width="1.2" />
<circle cx="1670.1899999999998" cy="235.5" r="2.6" fill="#5f0092"/>
<line x1="1681.52" y1="246.9" x2="1681.52" y2="279.3" stroke="#e3b0b5" stroke-width="1.9" />
<line x1="1680.12" y1="247.5" x2="1682.92" y2="247.5" stroke="#b07d80" stroke-width="1.2" />
<line x1="1680.12" y1="278.7" x2="1682.92" y2="278.7" stroke="#b07d80" stroke-width="1.2" />
<circle cx="1681.52" cy="263.3" r="2.6" fill="#d9a3a7" stroke="#c98a8f" stroke-width="0.9"/>
<line x1="1688.52" y1="228.8" x2="1688.52" y2="278.2" stroke="#cde4f5" stroke-width="1.9" />
<line x1="1687.12" y1="229.4" x2="1689.92" y2="229.4" stroke="#a5c4de" stroke-width="1.2" />
<line x1="1687.12" y1="277.59999999999997" x2="1689.92" y2="277.59999999999997" stroke="#a5c4de" stroke-width="1.2" />
<circle cx="1688.52" cy="253.2" r="2.6" fill="#c0dcf3" stroke="#aacdec" stroke-width="0.9"/>
<line x1="1695.52" y1="227.8" x2="1695.52" y2="267.1" stroke="#d9b9e6" stroke-width="1.9" />
<line x1="1694.12" y1="228.4" x2="1696.92" y2="228.4" stroke="#a88cb8" stroke-width="1.2" />
<line x1="1694.12" y1="266.5" x2="1696.92" y2="266.5" stroke="#a88cb8" stroke-width="1.2" />
<circle cx="1695.52" cy="246.9" r="2.6" fill="#cfaee0" stroke="#b98fd0" stroke-width="0.9"/>
<line x1="1706.85" y1="218.1" x2="1706.85" y2="288.7" stroke="#e3b0b5" stroke-width="1.9" />
<line x1="1705.4499999999998" y1="218.7" x2="1708.25" y2="218.7" stroke="#b07d80" stroke-width="1.2" />
<line x1="1705.4499999999998" y1="288.09999999999997" x2="1708.25" y2="288.09999999999997" stroke="#b07d80" stroke-width="1.2" />
<circle cx="1706.85" cy="253.2" r="2.6" fill="#d9a3a7" stroke="#c98a8f" stroke-width="0.9"/>
<line x1="1713.85" y1="202.4" x2="1713.85" y2="265.4" stroke="#cde4f5" stroke-width="1.9" />
<line x1="1712.4499999999998" y1="203.0" x2="1715.25" y2="203.0" stroke="#a5c4de" stroke-width="1.2" />
<line x1="1712.4499999999998" y1="264.79999999999995" x2="1715.25" y2="264.79999999999995" stroke="#a5c4de" stroke-width="1.2" />
<circle cx="1713.85" cy="233.7" r="2.6" fill="#c0dcf3" stroke="#aacdec" stroke-width="0.9"/>
<line x1="1720.85" y1="209.4" x2="1720.85" y2="240.7" stroke="#d2aee3" stroke-width="1.9" />
<line x1="1719.4499999999998" y1="210.0" x2="1722.25" y2="210.0" stroke="#a88cb8" stroke-width="1.2" />
<line x1="1719.4499999999998" y1="240.1" x2="1722.25" y2="240.1" stroke="#a88cb8" stroke-width="1.2" />
<circle cx="1720.85" cy="225" r="2.6" fill="#5f0092"/>
<line x1="1732.1799999999998" y1="241.7" x2="1732.1799999999998" y2="286.9" stroke="#e3b0b5" stroke-width="1.9" />
<line x1="1730.7799999999997" y1="242.29999999999998" x2="1733.58" y2="242.29999999999998" stroke="#b07d80" stroke-width="1.2" />
<line x1="1730.7799999999997" y1="286.29999999999995" x2="1733.58" y2="286.29999999999995" stroke="#b07d80" stroke-width="1.2" />
<circle cx="1732.1799999999998" cy="263.3" r="2.6" fill="#d9a3a7" stroke="#c98a8f" stroke-width="0.9"/>
<line x1="1739.1799999999998" y1="216.3" x2="1739.1799999999998" y2="255.6" stroke="#cde4f5" stroke-width="1.9" />
<line x1="1737.7799999999997" y1="216.9" x2="1740.58" y2="216.9" stroke="#a5c4de" stroke-width="1.2" />
<line x1="1737.7799999999997" y1="255.0" x2="1740.58" y2="255.0" stroke="#a5c4de" stroke-width="1.2" />
<circle cx="1739.1799999999998" cy="236.5" r="2.6" fill="#c0dcf3" stroke="#aacdec" stroke-width="0.9"/>
<line x1="1746.1799999999998" y1="228.8" x2="1746.1799999999998" y2="261.9" stroke="#d9b9e6" stroke-width="1.9" />
<line x1="1744.7799999999997" y1="229.4" x2="1747.58" y2="229.4" stroke="#a88cb8" stroke-width="1.2" />
<line x1="1744.7799999999997" y1="261.29999999999995" x2="1747.58" y2="261.29999999999995" stroke="#a88cb8" stroke-width="1.2" />
<circle cx="1746.1799999999998" cy="245.2" r="2.6" fill="#cfaee0" stroke="#b98fd0" stroke-width="0.9"/>
<line x1="1757.5099999999998" y1="255.6" x2="1757.5099999999998" y2="283.4" stroke="#e3b0b5" stroke-width="1.9" />
<line x1="1756.1099999999997" y1="256.2" x2="1758.9099999999999" y2="256.2" stroke="#b07d80" stroke-width="1.2" />
<line x1="1756.1099999999997" y1="282.79999999999995" x2="1758.9099999999999" y2="282.79999999999995" stroke="#b07d80" stroke-width="1.2" />
<circle cx="1757.5099999999998" cy="269.5" r="2.6" fill="#d9a3a7" stroke="#c98a8f" stroke-width="0.9"/>
<line x1="1764.5099999999998" y1="214.6" x2="1764.5099999999998" y2="274" stroke="#cde4f5" stroke-width="1.9" />
<line x1="1763.1099999999997" y1="215.2" x2="1765.9099999999999" y2="215.2" stroke="#a5c4de" stroke-width="1.2" />
<line x1="1763.1099999999997" y1="273.4" x2="1765.9099999999999" y2="273.4" stroke="#a5c4de" stroke-width="1.2" />
<circle cx="1764.5099999999998" cy="244.5" r="2.6" fill="#c0dcf3" stroke="#aacdec" stroke-width="0.9"/>
<line x1="1771.5099999999998" y1="252.8" x2="1771.5099999999998" y2="298.4" stroke="#d9b9e6" stroke-width="1.9" />
<line x1="1770.1099999999997" y1="253.4" x2="1772.9099999999999" y2="253.4" stroke="#a88cb8" stroke-width="1.2" />
<line x1="1770.1099999999997" y1="297.79999999999995" x2="1772.9099999999999" y2="297.79999999999995" stroke="#a88cb8" stroke-width="1.2" />
<circle cx="1771.5099999999998" cy="275.8" r="2.6" fill="#cfaee0" stroke="#b98fd0" stroke-width="0.9"/>
<line x1="1782.8399999999997" y1="237.5" x2="1782.8399999999997" y2="284.1" stroke="#e3b0b5" stroke-width="1.9" />
<line x1="1781.4399999999996" y1="238.1" x2="1784.2399999999998" y2="238.1" stroke="#b07d80" stroke-width="1.2" />
<line x1="1781.4399999999996" y1="283.5" x2="1784.2399999999998" y2="283.5" stroke="#b07d80" stroke-width="1.2" />
<circle cx="1782.8399999999997" cy="260.8" r="2.6" fill="#d9a3a7" stroke="#c98a8f" stroke-width="0.9"/>
<line x1="1789.8399999999997" y1="239.3" x2="1789.8399999999997" y2="275.8" stroke="#cde4f5" stroke-width="1.9" />
<line x1="1788.4399999999996" y1="239.9" x2="1791.2399999999998" y2="239.9" stroke="#a5c4de" stroke-width="1.2" />
<line x1="1788.4399999999996" y1="275.2" x2="1791.2399999999998" y2="275.2" stroke="#a5c4de" stroke-width="1.2" />
<circle cx="1789.8399999999997" cy="256.7" r="2.6" fill="#c0dcf3" stroke="#aacdec" stroke-width="0.9"/>
<line x1="1796.8399999999997" y1="234" x2="1796.8399999999997" y2="285.2" stroke="#d9b9e6" stroke-width="1.9" />
<line x1="1795.4399999999996" y1="234.6" x2="1798.2399999999998" y2="234.6" stroke="#a88cb8" stroke-width="1.2" />
<line x1="1795.4399999999996" y1="284.59999999999997" x2="1798.2399999999998" y2="284.59999999999997" stroke="#a88cb8" stroke-width="1.2" />
<circle cx="1796.8399999999997" cy="259.8" r="2.6" fill="#cfaee0" stroke="#b98fd0" stroke-width="0.9"/>
<line x1="1808.1699999999998" y1="245.2" x2="1808.1699999999998" y2="283.4" stroke="#e3b0b5" stroke-width="1.9" />
<line x1="1806.7699999999998" y1="245.79999999999998" x2="1809.57" y2="245.79999999999998" stroke="#b07d80" stroke-width="1.2" />
<line x1="1806.7699999999998" y1="282.79999999999995" x2="1809.57" y2="282.79999999999995" stroke="#b07d80" stroke-width="1.2" />
<circle cx="1808.1699999999998" cy="264.3" r="2.6" fill="#d9a3a7" stroke="#c98a8f" stroke-width="0.9"/>
<line x1="1815.1699999999998" y1="225.4" x2="1815.1699999999998" y2="237.2" stroke="#c2ddf4" stroke-width="1.9" />
<line x1="1813.7699999999998" y1="226.0" x2="1816.57" y2="226.0" stroke="#a5c4de" stroke-width="1.2" />
<line x1="1813.7699999999998" y1="236.6" x2="1816.57" y2="236.6" stroke="#a5c4de" stroke-width="1.2" />
<circle cx="1815.1699999999998" cy="231.3" r="2.6" fill="#3d8ee6"/>
<line x1="1822.1699999999998" y1="238.2" x2="1822.1699999999998" y2="251.1" stroke="#d2aee3" stroke-width="1.9" />
<line x1="1820.7699999999998" y1="238.79999999999998" x2="1823.57" y2="238.79999999999998" stroke="#a88cb8" stroke-width="1.2" />
<line x1="1820.7699999999998" y1="250.5" x2="1823.57" y2="250.5" stroke="#a88cb8" stroke-width="1.2" />
<circle cx="1822.1699999999998" cy="244.5" r="2.6" fill="#5f0092"/>
<line x1="1833.4999999999998" y1="273" x2="1833.4999999999998" y2="284.5" stroke="#e0a8ad" stroke-width="1.9" />
<line x1="1832.0999999999997" y1="273.6" x2="1834.8999999999999" y2="273.6" stroke="#b07d80" stroke-width="1.2" />
<line x1="1832.0999999999997" y1="283.9" x2="1834.8999999999999" y2="283.9" stroke="#b07d80" stroke-width="1.2" />
<circle cx="1833.4999999999998" cy="279.3" r="2.6" fill="#a00000"/>
<line x1="1840.4999999999998" y1="246.9" x2="1840.4999999999998" y2="260.8" stroke="#cde4f5" stroke-width="1.9" />
<line x1="1839.0999999999997" y1="247.5" x2="1841.8999999999999" y2="247.5" stroke="#a5c4de" stroke-width="1.2" />
<line x1="1839.0999999999997" y1="260.2" x2="1841.8999999999999" y2="260.2" stroke="#a5c4de" stroke-width="1.2" />
<circle cx="1840.4999999999998" cy="254.9" r="2.6" fill="#c0dcf3" stroke="#aacdec" stroke-width="0.9"/>
<line x1="1847.4999999999998" y1="257.4" x2="1847.4999999999998" y2="281.7" stroke="#d9b9e6" stroke-width="1.9" />
<line x1="1846.0999999999997" y1="258.0" x2="1848.8999999999999" y2="258.0" stroke="#a88cb8" stroke-width="1.2" />
<line x1="1846.0999999999997" y1="281.09999999999997" x2="1848.8999999999999" y2="281.09999999999997" stroke="#a88cb8" stroke-width="1.2" />
<circle cx="1847.4999999999998" cy="269.5" r="2.6" fill="#cfaee0" stroke="#b98fd0" stroke-width="0.9"/>
<line x1="1858.83" y1="223.6" x2="1858.83" y2="292.1" stroke="#e3b0b5" stroke-width="1.9" />
<line x1="1857.4299999999998" y1="224.2" x2="1860.23" y2="224.2" stroke="#b07d80" stroke-width="1.2" />
<line x1="1857.4299999999998" y1="291.5" x2="1860.23" y2="291.5" stroke="#b07d80" stroke-width="1.2" />
<circle cx="1858.83" cy="258.4" r="2.6" fill="#d9a3a7" stroke="#c98a8f" stroke-width="0.9"/>
<line x1="1865.83" y1="252.1" x2="1865.83" y2="271.3" stroke="#cde4f5" stroke-width="1.9" />
<line x1="1864.4299999999998" y1="252.7" x2="1867.23" y2="252.7" stroke="#a5c4de" stroke-width="1.2" />
<line x1="1864.4299999999998" y1="270.7" x2="1867.23" y2="270.7" stroke="#a5c4de" stroke-width="1.2" />
<circle cx="1865.83" cy="261.5" r="2.6" fill="#c0dcf3" stroke="#aacdec" stroke-width="0.9"/>
<line x1="1872.83" y1="241.7" x2="1872.83" y2="262.6" stroke="#d9b9e6" stroke-width="1.9" />
<line x1="1871.4299999999998" y1="242.29999999999998" x2="1874.23" y2="242.29999999999998" stroke="#a88cb8" stroke-width="1.2" />
<line x1="1871.4299999999998" y1="262.0" x2="1874.23" y2="262.0" stroke="#a88cb8" stroke-width="1.2" />
<circle cx="1872.83" cy="252.1" r="2.6" fill="#cfaee0" stroke="#b98fd0" stroke-width="0.9"/>
<line x1="1884.1599999999999" y1="200" x2="1884.1599999999999" y2="306" stroke="#e3b0b5" stroke-width="1.9" />
<line x1="1882.7599999999998" y1="200.6" x2="1885.56" y2="200.6" stroke="#b07d80" stroke-width="1.2" />
<line x1="1882.7599999999998" y1="305.4" x2="1885.56" y2="305.4" stroke="#b07d80" stroke-width="1.2" />
<circle cx="1884.1599999999999" cy="253.9" r="2.6" fill="#d9a3a7" stroke="#c98a8f" stroke-width="0.9"/>
<line x1="1891.1599999999999" y1="215.6" x2="1891.1599999999999" y2="266" stroke="#cde4f5" stroke-width="1.9" />
<line x1="1889.7599999999998" y1="216.2" x2="1892.56" y2="216.2" stroke="#a5c4de" stroke-width="1.2" />
<line x1="1889.7599999999998" y1="265.4" x2="1892.56" y2="265.4" stroke="#a5c4de" stroke-width="1.2" />
<circle cx="1891.1599999999999" cy="241" r="2.6" fill="#c0dcf3" stroke="#aacdec" stroke-width="0.9"/>
<line x1="1898.1599999999999" y1="170.4" x2="1898.1599999999999" y2="313.7" stroke="#d9b9e6" stroke-width="1.9" />
<line x1="1896.7599999999998" y1="171.0" x2="1899.56" y2="171.0" stroke="#a88cb8" stroke-width="1.2" />
<line x1="1896.7599999999998" y1="313.09999999999997" x2="1899.56" y2="313.09999999999997" stroke="#a88cb8" stroke-width="1.2" />
<circle cx="1898.1599999999999" cy="242.4" r="2.6" fill="#cfaee0" stroke="#b98fd0" stroke-width="0.9"/>
<line x1="1909.4899999999998" y1="245.2" x2="1909.4899999999998" y2="263.6" stroke="#e3b0b5" stroke-width="1.9" />
<line x1="1908.0899999999997" y1="245.79999999999998" x2="1910.8899999999999" y2="245.79999999999998" stroke="#b07d80" stroke-width="1.2" />
<line x1="1908.0899999999997" y1="263.0" x2="1910.8899999999999" y2="263.0" stroke="#b07d80" stroke-width="1.2" />
<circle cx="1909.4899999999998" cy="253.9" r="2.6" fill="#d9a3a7" stroke="#c98a8f" stroke-width="0.9"/>
<line x1="1916.4899999999998" y1="232" x2="1916.4899999999998" y2="266" stroke="#cde4f5" stroke-width="1.9" />
<line x1="1915.0899999999997" y1="232.6" x2="1917.8899999999999" y2="232.6" stroke="#a5c4de" stroke-width="1.2" />
<line x1="1915.0899999999997" y1="265.4" x2="1917.8899999999999" y2="265.4" stroke="#a5c4de" stroke-width="1.2" />
<circle cx="1916.4899999999998" cy="249.4" r="2.6" fill="#c0dcf3" stroke="#aacdec" stroke-width="0.9"/>
<line x1="1923.4899999999998" y1="249.5" x2="1923.4899999999998" y2="253.5" stroke="#d2aee3" stroke-width="1.9" />
<line x1="1922.0899999999997" y1="250.1" x2="1924.8899999999999" y2="250.1" stroke="#a88cb8" stroke-width="1.2" />
<line x1="1922.0899999999997" y1="252.9" x2="1924.8899999999999" y2="252.9" stroke="#a88cb8" stroke-width="1.2" />
<circle cx="1923.4899999999998" cy="251.4" r="2.6" fill="#5f0092"/>
<line x1="1934.8199999999997" y1="242.4" x2="1934.8199999999997" y2="283.4" stroke="#e3b0b5" stroke-width="1.9" />
<line x1="1933.4199999999996" y1="243.0" x2="1936.2199999999998" y2="243.0" stroke="#b07d80" stroke-width="1.2" />
<line x1="1933.4199999999996" y1="282.79999999999995" x2="1936.2199999999998" y2="282.79999999999995" stroke="#b07d80" stroke-width="1.2" />
<circle cx="1934.8199999999997" cy="263.3" r="2.6" fill="#d9a3a7" stroke="#c98a8f" stroke-width="0.9"/>
<line x1="1941.8199999999997" y1="173.9" x2="1941.8199999999997" y2="380.8" stroke="#cde4f5" stroke-width="1.9" />
<line x1="1940.4199999999996" y1="174.5" x2="1943.2199999999998" y2="174.5" stroke="#a5c4de" stroke-width="1.2" />
<line x1="1940.4199999999996" y1="380.2" x2="1943.2199999999998" y2="380.2" stroke="#a5c4de" stroke-width="1.2" />
<circle cx="1941.8199999999997" cy="278.2" r="2.6" fill="#c0dcf3" stroke="#aacdec" stroke-width="0.9"/>
<line x1="1948.8199999999997" y1="181.9" x2="1948.8199999999997" y2="389.5" stroke="#d9b9e6" stroke-width="1.9" />
<line x1="1947.4199999999996" y1="182.5" x2="1950.2199999999998" y2="182.5" stroke="#a88cb8" stroke-width="1.2" />
<line x1="1947.4199999999996" y1="388.9" x2="1950.2199999999998" y2="388.9" stroke="#a88cb8" stroke-width="1.2" />
<circle cx="1948.8199999999997" cy="286.2" r="2.6" fill="#cfaee0" stroke="#b98fd0" stroke-width="0.9"/>
<line x1="1960.1499999999999" y1="243.4" x2="1960.1499999999999" y2="268.8" stroke="#e3b0b5" stroke-width="1.9" />
<line x1="1958.7499999999998" y1="244.0" x2="1961.55" y2="244.0" stroke="#b07d80" stroke-width="1.2" />
<line x1="1958.7499999999998" y1="268.2" x2="1961.55" y2="268.2" stroke="#b07d80" stroke-width="1.2" />
<circle cx="1960.1499999999999" cy="256.3" r="2.6" fill="#d9a3a7" stroke="#c98a8f" stroke-width="0.9"/>
<line x1="1967.1499999999999" y1="221.9" x2="1967.1499999999999" y2="268.8" stroke="#cde4f5" stroke-width="1.9" />
<line x1="1965.7499999999998" y1="222.5" x2="1968.55" y2="222.5" stroke="#a5c4de" stroke-width="1.2" />
<line x1="1965.7499999999998" y1="268.2" x2="1968.55" y2="268.2" stroke="#a5c4de" stroke-width="1.2" />
<circle cx="1967.1499999999999" cy="245.2" r="2.6" fill="#c0dcf3" stroke="#aacdec" stroke-width="0.9"/>
<line x1="1974.1499999999999" y1="218" x2="1974.1499999999999" y2="288.7" stroke="#d9b9e6" stroke-width="1.9" />
<line x1="1972.7499999999998" y1="218.6" x2="1975.55" y2="218.6" stroke="#a88cb8" stroke-width="1.2" />
<line x1="1972.7499999999998" y1="288.09999999999997" x2="1975.55" y2="288.09999999999997" stroke="#a88cb8" stroke-width="1.2" />
<circle cx="1974.1499999999999" cy="252.8" r="2.6" fill="#cfaee0" stroke="#b98fd0" stroke-width="0.9"/>
<text x="1338" y="595" font-size="22" fill="#222" text-anchor="end" font-weight="normal" textLength="49" lengthAdjust="spacingAndGlyphs" >~200</text>
<text x="1338" y="619.5" font-size="22" fill="#222" text-anchor="end" font-weight="normal" textLength="61" lengthAdjust="spacingAndGlyphs" >mm yr</text>
<text x="1340" y="609" font-size="14" fill="#222" text-anchor="start" font-weight="normal" >-1</text>
<text x="1313.5" y="653" font-size="22" fill="#222" text-anchor="middle" font-weight="normal" textLength="39" lengthAdjust="spacingAndGlyphs" >Arid</text>
<text x="1313" y="677" font-size="22" fill="#222" text-anchor="middle" font-weight="normal" textLength="104" lengthAdjust="spacingAndGlyphs" >grasslands</text>
<line x1="1362" y1="596" x2="1846" y2="596" stroke="#111" stroke-width="2" />
<path d="M1838 590 L1849 596 L1838 602" fill="none" stroke="#111" stroke-width="2"/>
<text x="1607" y="632" font-size="22" fill="#222" text-anchor="middle" font-weight="normal" textLength="46" lengthAdjust="spacingAndGlyphs" >Sites</text>
<text x="1991" y="595" font-size="22" fill="#222" text-anchor="end" font-weight="normal" textLength="130" lengthAdjust="spacingAndGlyphs" >~1,000–1,200</text>
<text x="1951" y="619.5" font-size="22" fill="#222" text-anchor="end" font-weight="normal" textLength="69" lengthAdjust="spacingAndGlyphs" >mm yr</text>
<text x="1952" y="609" font-size="14" fill="#222" text-anchor="start" font-weight="normal" >-1</text>
<text x="1926" y="653" font-size="22" fill="#222" text-anchor="middle" font-weight="normal" textLength="64" lengthAdjust="spacingAndGlyphs" >Humid</text>
<text x="1926.5" y="677" font-size="22" fill="#222" text-anchor="middle" font-weight="normal" textLength="105" lengthAdjust="spacingAndGlyphs" >grasslands</text>
<rect x="1351" y="578" width="587.5" height="112" fill="rgb(72,157,117)" fill-opacity="0.624"/>
<g fill="#fff" stroke="none">
<circle cx="1419.5" cy="635" r="49" fill="none" stroke="#fff" stroke-width="1.5"/>
<circle cx="1419.5" cy="635" r="36" fill="none" stroke="#fff" stroke-width="1.4"/>
<path d="M1419.7 604.6 L1434.7 616.8 L1434.7 623.3 L1419.7 613.7 L1404.7 623.3 L1404.7 616.8 Z"/>
<path d="M1419.7 617.4 L1439 630.3 L1439 638.4 L1419.7 626.6 L1400.4 638.4 L1400.4 630.3 Z"/>
<path d="M1419.7 630.3 L1447.6 646.4 L1447.6 650.7 Q1435 646.5 1427 650 L1419.7 652 L1412 650 Q1404 646.5 1392.3 650.7 L1392.3 646.4 Z M1412.5 642.1 L1419.7 646.2 L1426.9 642.1 L1419.7 638 Z" fill-rule="evenodd"/>
</g>
<text x="1419.7" y="661.2" font-size="7.5" font-weight="bold" fill="#fff" text-anchor="middle" textLength="17" lengthAdjust="spacingAndGlyphs">1952</text>
<defs><path id="arcb" d="M1375.5 623.2 A45.5 45.5 0 1 0 1463.5 623.2"/></defs>
<text font-size="8.5" fill="#fff" stroke="#fff" stroke-width="0.2"><textPath href="#arcb" startOffset="50%" text-anchor="middle" textLength="158" lengthAdjust="spacing">BEIJING FORESTRY UNIVERSITY</textPath></text>
<g transform="translate(1382.7 613.8) rotate(-60)"><path d="M-3 -3 L3 -3 M0 -4 L0 4 M-3 1 L3 1 M-3 4 L3 3" stroke="#fff" stroke-width="1.3" fill="none"/></g>
<g transform="translate(1393.3 601.5) rotate(-38)"><path d="M-3 -3 L3 -3 M0 -4 L0 4 M-3 1 L3 1 M-3 4 L3 3" stroke="#fff" stroke-width="1.3" fill="none"/></g>
<g transform="translate(1407.8 594.1) rotate(-16)"><path d="M-3 -3 L3 -3 M0 -4 L0 4 M-3 1 L3 1 M-3 4 L3 3" stroke="#fff" stroke-width="1.3" fill="none"/></g>
<g transform="translate(1423.9 592.7) rotate(6)"><path d="M-3 -3 L3 -3 M0 -4 L0 4 M-3 1 L3 1 M-3 4 L3 3" stroke="#fff" stroke-width="1.3" fill="none"/></g>
<g transform="translate(1439.5 597.5) rotate(28)"><path d="M-3 -3 L3 -3 M0 -4 L0 4 M-3 1 L3 1 M-3 4 L3 3" stroke="#fff" stroke-width="1.3" fill="none"/></g>
<g transform="translate(1452.1 607.7) rotate(50)"><path d="M-3 -3 L3 -3 M0 -4 L0 4 M-3 1 L3 1 M-3 4 L3 3" stroke="#fff" stroke-width="1.3" fill="none"/></g>
<g fill="#fff" stroke="#fff" stroke-linecap="round" stroke-linejoin="round">
<ellipse cx="1494" cy="604.5" rx="9" ry="7.2" transform="rotate(0 1494 604.5)" stroke="none"/>
<path d="M1490 606 L1502.5 606 L1502 640 L1491.5 640 Z" stroke="none"/>
<ellipse cx="1487.5" cy="625.5" rx="5.5" ry="6.3" transform="rotate(0 1487.5 625.5)" stroke="none"/>
<ellipse cx="1494" cy="645" rx="11.3" ry="7" transform="rotate(0 1494 645)" stroke="none"/>
<ellipse cx="1517" cy="604.5" rx="5.6" ry="6.4" transform="rotate(0 1517 604.5)" stroke="none"/>
<path d="M1511.5 604 L1520.5 604 L1520 638 L1512 638 Z" stroke="none"/>
<ellipse cx="1523.5" cy="618" rx="4.8" ry="4.3" transform="rotate(0 1523.5 618)" stroke="none"/>
<ellipse cx="1519" cy="638.5" rx="7.2" ry="4.2" transform="rotate(0 1519 638.5)" stroke="none"/>
<ellipse cx="1566" cy="597.5" rx="4.6" ry="4.2" transform="rotate(0 1566 597.5)" stroke="none"/>
<path d="M1537.5 627 Q1538 621 1547 619.5 Q1562 612 1576 606.5 Q1581 606 1579 612 Q1566 617 1550 626 Q1541 632 1537.5 627 Z" stroke="none"/>
<path d="M1565 618 L1564.5 636 L1563.5 651" fill="none" stroke-width="5"/>
<ellipse cx="1568" cy="628" rx="5" ry="4.5" transform="rotate(0 1568 628)" stroke="none"/>
<ellipse cx="1555.3" cy="647.3" rx="4" ry="3.8" transform="rotate(0 1555.3 647.3)" stroke="none"/>
<ellipse cx="1573.3" cy="645" rx="4.6" ry="4" transform="rotate(0 1573.3 645)" stroke="none"/>
<path d="M1607 598 Q1611 593 1615.5 598 L1613.5 647 Q1610.5 650 1608.5 646 Z" stroke="none"/>
<path d="M1595.5 622 L1621 613" fill="none" stroke-width="6"/>
<path d="M1609 627 L1596.5 640.5" fill="none" stroke-width="6"/>
<path d="M1630 601 L1628.5 628 L1626.5 649.5" fill="none" stroke-width="5.5"/>
<path d="M1614.5 628 L1634 617" fill="none" stroke-width="5"/>
<path d="M1626.5 632 L1615.5 642" fill="none" stroke-width="5"/>
<path d="M1629 629 Q1636 633 1643.5 632.5 Q1642 637 1634 637 Q1629 636 1628 632 Z" stroke="none"/>
<ellipse cx="1667.5" cy="602.5" rx="5.5" ry="5" transform="rotate(0 1667.5 602.5)" stroke="none"/>
<path d="M1668 603 L1667.5 638" fill="none" stroke-width="6.5"/>
<ellipse cx="1683" cy="599.5" rx="5" ry="4.3" transform="rotate(0 1683 599.5)" stroke="none"/>
<path d="M1683.5 600 L1672 633" fill="none" stroke-width="5.5"/>
<path d="M1652 626 Q1654 620 1662 622 Q1673 620 1684 621 Q1689 626 1683 628.5 Q1670 629 1658 633 Q1651 633 1652 626 Z" stroke="none"/>
<path d="M1654 645 Q1655 640 1662 641 Q1673 639 1682 638 Q1688 642 1683 646 Q1670 648 1660 651 Q1654 651 1654 645 Z" stroke="none"/>
<path d="M1705.5 623 L1730 618.5" fill="none" stroke-width="6.5"/>
<ellipse cx="1706" cy="622.5" rx="4.8" ry="4.6" transform="rotate(0 1706 622.5)" stroke="none"/>
<path d="M1720.5 597 L1719 621" fill="none" stroke-width="6.5"/>
<path d="M1716 619 L1722 621 Q1718 642 1702 650.5 Q1696 652 1697 647 Q1712 638 1716 619 Z" stroke="none"/>
<path d="M1718 624 Q1728 640 1742.5 642.5 Q1742 648 1733 647 Q1721 642 1716 628 Z" stroke="none"/>
<path d="M1753 601 Q1757 595 1763 599 Q1768 608 1769 622 Q1764 626 1759 622 Q1754 612 1753 601 Z" stroke="none"/>
<path d="M1770 600 L1771 612" fill="none" stroke-width="4"/>
<path d="M1782 598 Q1778 608 1772.5 615" fill="none" stroke-width="5"/>
<path d="M1768 623 L1782 617" fill="none" stroke-width="3.5"/>
<path d="M1748 631 Q1750 626 1756 627.5 Q1770 622 1785 617.5 Q1780 625 1765 630 Q1754 637 1748 631 Z" stroke="none"/>
<path d="M1766 633 L1780 640" fill="none" stroke-width="4"/>
<path d="M1780 640 Q1770 646 1767 653.5" fill="none" stroke-width="5"/>
<path d="M1764 646 L1774 644" fill="none" stroke-width="3"/>
</g>
<text x="1493.5" y="676.7" font-size="15.5" fill="#fff" text-anchor="start" font-weight="normal" textLength="281" lengthAdjust="spacingAndGlyphs" stroke="#fff" stroke-width="0.7">BEIJING FORESTRY UNIVERSITY</text>
<line x1="1801.4" y1="586.4" x2="1801.4" y2="679" stroke="#fff" stroke-width="2.8" />
<g fill="none" stroke="#fff" stroke-width="3.3" stroke-linecap="butt" stroke-linejoin="miter">
<path d="M1834 591 L1836.5 597 M1824.5 598.5 L1846.5 598.5 M1828.5 602.5 L1830.5 608.5 M1843.5 602.5 L1841 608.5 M1823 611.5 L1848 611.5 M1825 619.5 L1846.5 619.5 M1835.5 611.5 L1835.5 633.5 M1834.5 622 L1824 631.5 M1837 623 L1846 629"/>
<path d="M1865 592 L1851.5 597 L1851.5 612 Q1851 625 1847 633 M1851.5 607 L1867 607 M1860.5 607 L1860.5 633.5"/>
<path d="M1873.5 591.5 L1878 597.5 M1874 601 L1874 633.5 M1880 594 L1910.5 594 L1910.5 630 Q1910.5 633 1905 632.5 M1883 603 L1902 603 M1887 603 L1887 626 M1897 603 L1897 626 M1887 611 L1897 611 M1887 618 L1897 618 M1882 626.5 L1904 623.5"/>
</g>
<text x="1822.5" y="673.5" font-size="37" fill="#fff" text-anchor="start" font-weight="normal" textLength="100" lengthAdjust="spacingAndGlyphs" stroke="#fff" stroke-width="0.6">NEWS</text>
</svg>
</body></html>
